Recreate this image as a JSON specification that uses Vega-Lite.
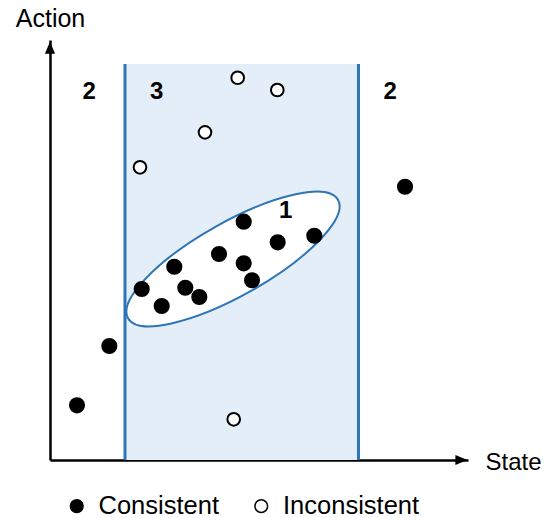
{
  "$schema": "https://vega.github.io/schema/vega-lite/v6.json",
  "width": 418,
  "height": 420,
  "autosize": {"type": "none"},
  "padding": {"left": 50, "top": 40, "right": 85, "bottom": 58},
  "background": "white",
  "config": {
    "view": {"stroke": null},
    "font": "Liberation Sans",
    "axis": {
      "domainColor": "black",
      "domainWidth": 2.5,
      "ticks": false,
      "labels": false,
      "grid": false,
      "zindex": 1,
      "titleFont": "Liberation Sans",
      "titleFontWeight": "normal",
      "titleColor": "black",
      "titleBaseline": "alphabetic"
    },
    "axisX": {"titleX": 435, "titleY": 9, "titleAlign": "left", "titleFontSize": 24},
    "axisY": {"titleX": 0, "titleY": -14, "titleAlign": "center", "titleAngle": 0, "titleFontSize": 25}
  },
  "layer": [
    {
      "data": {"values": [{"lo": 17.94, "hi": 73.8, "bottom": 0, "top": 94.29}]},
      "mark": {"type": "rect", "fill": "#E4EEF8"},
      "encoding": {
        "x": {"field": "lo", "type": "quantitative", "scale": {"domain": [0, 100], "nice": false}, "title": "State"},
        "x2": {"field": "hi"},
        "y": {"field": "bottom", "type": "quantitative", "scale": {"domain": [0, 100], "nice": false}, "title": "Action"},
        "y2": {"field": "top"}
      }
    },
    {
      "data": {"values": [{"s": 17.94, "bottom": 0, "top": 94.29}, {"s": 73.8, "bottom": 0, "top": 94.29}]},
      "mark": {"type": "rule", "stroke": "#2E75B6", "strokeWidth": 3},
      "encoding": {
        "x": {"field": "s", "type": "quantitative", "scale": {"domain": [0, 100], "nice": false}, "title": "State"},
        "y": {"field": "bottom", "type": "quantitative", "scale": {"domain": [0, 100], "nice": false}, "title": "Action"},
        "y2": {"field": "top"}
      }
    },
    {
      "data": {"values": [{"state": 43.78, "action": 47.86}]},
      "mark": {
        "type": "point",
        "shape": "M-1,0C-1,-0.1682,-0.5523,-0.3046,0,-0.3046C0.5523,-0.3046,1,-0.1682,1,0C1,0.1682,0.5523,0.3046,0,0.3046C-0.5523,0.3046,-1,0.1682,-1,0Z",
        "size": 58081,
        "angle": 330.6,
        "filled": true,
        "fill": "white",
        "stroke": "#2E75B6",
        "strokeWidth": 2,
        "opacity": 1
      },
      "encoding": {
        "x": {"field": "state", "type": "quantitative", "scale": {"domain": [0, 100], "nice": false}, "title": "State"},
        "y": {"field": "action", "type": "quantitative", "scale": {"domain": [0, 100], "nice": false}, "title": "Action"}
      }
    },
    {
      "data": {"values": [
        {"state": 6.46, "action": 13.02, "type": "Consistent"},
        {"state": 14.19, "action": 27.14, "type": "Consistent"},
        {"state": 21.94, "action": 40.71, "type": "Consistent"},
        {"state": 26.72, "action": 36.67, "type": "Consistent"},
        {"state": 29.74, "action": 46.02, "type": "Consistent"},
        {"state": 32.37, "action": 41.02, "type": "Consistent"},
        {"state": 35.72, "action": 38.81, "type": "Consistent"},
        {"state": 40.43, "action": 49.05, "type": "Consistent"},
        {"state": 46.34, "action": 56.74, "type": "Consistent"},
        {"state": 46.34, "action": 46.83, "type": "Consistent"},
        {"state": 48.33, "action": 42.79, "type": "Consistent"},
        {"state": 54.47, "action": 51.83, "type": "Consistent"},
        {"state": 63.23, "action": 53.40, "type": "Consistent"},
        {"state": 84.93, "action": 65.07, "type": "Consistent"},
        {"state": 44.90, "action": 91.02, "type": "Inconsistent"},
        {"state": 54.38, "action": 88.10, "type": "Inconsistent"},
        {"state": 37.08, "action": 78.02, "type": "Inconsistent"},
        {"state": 21.53, "action": 69.69, "type": "Inconsistent"},
        {"state": 43.95, "action": 9.69, "type": "Inconsistent"}
      ]},
      "mark": {"type": "point", "shape": "circle", "filled": true, "stroke": "black", "strokeWidth": 2, "opacity": 1},
      "encoding": {
        "x": {"field": "state", "type": "quantitative", "scale": {"domain": [0, 100], "nice": false}, "title": "State"},
        "y": {"field": "action", "type": "quantitative", "scale": {"domain": [0, 100], "nice": false}, "title": "Action"},
        "fill": {
          "field": "type",
          "type": "nominal",
          "scale": {"domain": ["Consistent", "Inconsistent"], "range": ["black", "white"]},
          "legend": {
            "title": null,
            "orient": "none",
            "legendX": 14,
            "legendY": 453,
            "direction": "horizontal",
            "columns": 2,
            "symbolType": "circle",
            "symbolSize": 160,
            "symbolStrokeColor": "black",
            "symbolStrokeWidth": 1.5,
            "labelFontSize": 25.5,
            "labelFont": "Liberation Sans",
            "labelColor": "black",
            "labelOffset": 9,
            "labelLimit": 400,
            "columnPadding": 29.5,
            "padding": 0
          }
        },
        "size": {"condition": {"test": "datum.type === 'Consistent'", "value": 200}, "value": 160}
      }
    },
    {
      "data": {"values": [
        {"label": "2", "state": 9.40, "action": 87.7},
        {"label": "3", "state": 25.53, "action": 87.7},
        {"label": "2", "state": 81.41, "action": 87.7},
        {"label": "1", "state": 56.39, "action": 59.19}
      ]},
      "mark": {"type": "text", "font": "Liberation Sans", "fontWeight": "bold", "fontSize": 24, "align": "center", "baseline": "middle", "color": "black"},
      "encoding": {
        "x": {"field": "state", "type": "quantitative", "scale": {"domain": [0, 100], "nice": false}, "title": "State"},
        "y": {"field": "action", "type": "quantitative", "scale": {"domain": [0, 100], "nice": false}, "title": "Action"},
        "text": {"field": "label"}
      }
    },
    {
      "data": {"values": [{"state": 0, "action": 100}]},
      "mark": {"type": "point", "shape": "M0,0.3L0.85,2.3L-0.85,2.3Z", "size": 144, "filled": true, "fill": "black", "strokeWidth": 0, "opacity": 1},
      "encoding": {
        "x": {"field": "state", "type": "quantitative", "scale": {"domain": [0, 100], "nice": false}, "title": "State"},
        "y": {"field": "action", "type": "quantitative", "scale": {"domain": [0, 100], "nice": false}, "title": "Action"}
      }
    },
    {
      "data": {"values": [{"state": 100, "action": 0}]},
      "mark": {"type": "point", "shape": "M-0.1,0L-2.1,-0.85L-2.1,0.85Z", "size": 144, "filled": true, "fill": "black", "strokeWidth": 0, "opacity": 1},
      "encoding": {
        "x": {"field": "state", "type": "quantitative", "scale": {"domain": [0, 100], "nice": false}, "title": "State"},
        "y": {"field": "action", "type": "quantitative", "scale": {"domain": [0, 100], "nice": false}, "title": "Action"}
      }
    }
  ]
}
